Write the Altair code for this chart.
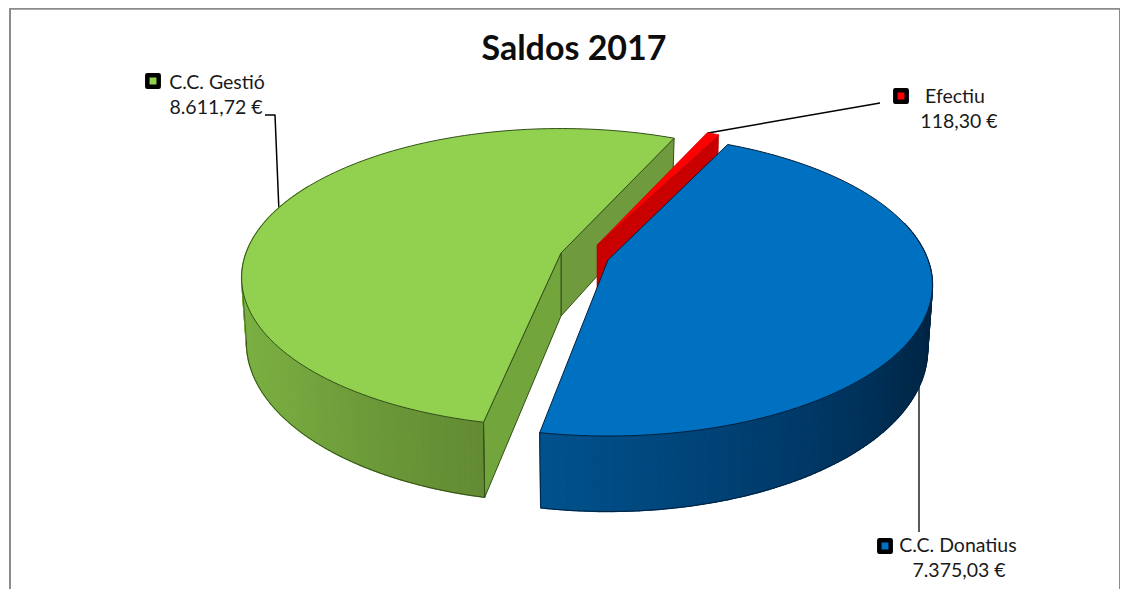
import math
import altair as alt

# ---- chart values ----
categories = ["C.C. Gestió", "C.C. Donatius", "Efectiu"]
amounts = [8611.72, 7375.03, 118.30]
amount_labels = ["8.611,72 €", "7.375,03 €", "118,30 €"]
top_colors = ["#92D050", "#0070C0", "#FF0000"]
title_text = "Saldos 2017"

W, H = 1112, 581
OX, OY = 8, 8  # page margin
TILT = 0.165
DEPTH = 63
START = 65.6  # angle where the first slice begins
BLUE_SHIFT = 1.6


def P(x, y):
    return [x - OX, y - OY]


total = sum(amounts)
sweep = [v / total * 360 for v in amounts]
green_a0, green_a1 = START, START + sweep[0]
blue_a0, blue_a1 = green_a1 + BLUE_SHIFT, green_a1 + sweep[1] + BLUE_SHIFT
red_a0, red_a1 = START - sweep[2], START


def pt(apex, a, b, t, drop=False):
    r = math.radians(t)
    X, Y = math.cos(r), math.sin(r)
    s = 1 / (1 + TILT * Y)
    k = 0.985 if drop else 1.0
    x = apex[0] + a * X * s * k
    y = apex[1] - b * Y * s + (DEPTH * s if drop else 0)
    return P(x, y)


def base(apex, drop=False):
    return P(apex[0], apex[1] + (DEPTH if drop else 0))


def arc(apex, a, b, t0, t1, drop=False, n=None):
    n = n or max(2, int(abs(t1 - t0) / 1.5))
    return [pt(apex, a, b, t0 + (t1 - t0) * i / n, drop) for i in range(n + 1)]


def feat(coords, fill="transparent", stroke="transparent", sw=1.0, line=False):
    if line:
        geom = {"type": "LineString", "coordinates": coords}
    else:
        geom = {"type": "Polygon", "coordinates": [coords + [coords[0]]]}
    return {"type": "Feature", "geometry": geom,
            "properties": {"f": fill, "s": stroke, "w": sw}}


def mix(stops, t):
    if t <= stops[0][0]:
        return stops[0][1]
    for (t0, c0), (t1, c1) in zip(stops, stops[1:]):
        if t0 <= t <= t1:
            u = (t - t0) / (t1 - t0)
            ch = [round(int(c0[i:i+2], 16) * (1 - u) + int(c1[i:i+2], 16) * u) for i in (1, 3, 5)]
            return "#%02x%02x%02x" % tuple(ch)
    return stops[-1][1]


def wall(apex, a, b, t0, t1, stops, step=1.0):
    out = []
    t = t0
    while t < t1:
        e = min(t + step, t1)
        poly = [pt(apex, a, b, t), pt(apex, a, b, e), pt(apex, a, b, e, True), pt(apex, a, b, t, True)]
        c = mix(stops, (t + e) / 2)
        out.append(feat(poly, c, c, 1.4))
        t = e
    return out


G, GA, GB = (561, 253), 315, 145
B, BA, BB = (608, 260), 320, 147
R, RA, RB = (597, 245), 307, 142

green_stops = [(170, "#82bb47"), (220, "#76a83f"), (259, "#628a33")]
blue_stops = [(258, "#00538f"), (300, "#003a69"), (330, "#00294b"), (375, "#00213d")]
GREEN_EDGE, BLUE_EDGE = "#33501a", "#00203c"

features = [feat([[0, 0], [W, 0], [W, H], [0, H]])]  # invisible box that fixes the frame

# leader lines and chart frame
features += [
    feat([[10 - OX, H], [10 - OX, 0.8], [1120 - OX, 0.8], [1120 - OX, H]], stroke="#8c8c8c", sw=2, line=True),
    feat([P(265, 115), P(275, 115), P(279, 212)], stroke="#000000", sw=1.5, line=True),
    feat([P(708, 133), P(880, 103)], stroke="#000000", sw=1.5, line=True),
    feat([P(919, 370), P(919, 532)], stroke="#000000", sw=1.3, line=True),
]

# green slice: cut faces, outer wall, top
features.append(feat([base(G), pt(G, GA, GB, green_a0), pt(G, GA, GB, green_a0, True), base(G, True)],
                     "#6f9b3e", GREEN_EDGE, 1))
features += wall(G, GA, GB, 150, green_a1, green_stops)
features.append(feat([base(G), pt(G, GA, GB, green_a1), pt(G, GA, GB, green_a1, True), base(G, True)],
                     "#73a53d", GREEN_EDGE, 1))
features.append(feat(arc(G, GA, GB, 189, green_a1, True), stroke=GREEN_EDGE, sw=1, line=True))
features.append(feat([pt(G, GA, GB, 189), pt(G, GA, GB, 189, True)], stroke=GREEN_EDGE, sw=0.7, line=True))
features.append(feat([pt(G, GA, GB, green_a1), pt(G, GA, GB, green_a1, True)], stroke=GREEN_EDGE, sw=1, line=True))
features.append(feat([base(G)] + arc(G, GA, GB, green_a0, green_a1), top_colors[0], GREEN_EDGE, 1))

# red slice: cut face and top
features.append(feat([base(R), pt(R, RA, RB, red_a0), pt(R, RA, RB, red_a0, True), base(R, True)],
                     "#c80000", "#b00000", 0.6))
features.append(feat([base(R)] + arc(R, RA, RB, red_a0, red_a1, n=3), top_colors[2], "#d00000", 0.6))

# blue slice: outer wall and top
features += wall(B, BA, BB, blue_a0, 375, blue_stops)
features.append(feat(arc(B, BA, BB, blue_a0, 351, True), stroke=BLUE_EDGE, sw=1, line=True))
features.append(feat([pt(B, BA, BB, blue_a0), pt(B, BA, BB, blue_a0, True)], stroke=BLUE_EDGE, sw=0.8, line=True))
features.append(feat([base(B)] + arc(B, BA, BB, blue_a0, blue_a1), top_colors[1], BLUE_EDGE, 1))

# text and key positions
label_x = [216, 959, 959]
name_y = [83, 97, 546]
name_x = [217, 955, 958]
value_y = [108, 122, 571]
key_x = [153, 901, 885]
key_y = [81, 96, 546]
order = [0, 2, 1]  # label rows: Gestió, Efectiu, Donatius

text_rows = [{"t": title_text, "x": 574 - OX, "y": 50 - OY}]
label_rows = []
for row, idx in enumerate(order):
    label_rows.append({"t": categories[idx], "x": name_x[row] - OX, "y": name_y[row] - OY})
    label_rows.append({"t": amount_labels[idx], "x": label_x[row] - OX, "y": value_y[row] - OY})
key_rows = [{"x": key_x[r] - OX, "y": key_y[r] - OY, "c": top_colors[i]} for r, i in enumerate(order)]

proj = dict(type="identity")

shapes = alt.Chart(alt.Data(values=features)).mark_geoshape(strokeJoin="round").encode(
    fill=alt.Fill("properties.f:N", scale=None),
    stroke=alt.Stroke("properties.s:N", scale=None),
    strokeWidth=alt.StrokeWidth("properties.w:Q", scale=None),
).project(**proj)

title = alt.Chart(alt.Data(values=text_rows)).mark_text(
    font="Lato", fontSize=34, fontWeight="bold", color="#0d0d0d", align="center", baseline="middle"
).encode(longitude="x:Q", latitude="y:Q", text="t:N").project(**proj)

labels = alt.Chart(alt.Data(values=label_rows)).mark_text(
    font="Lato", fontSize=19.5, color="#1a1a1a", align="center", baseline="middle"
).encode(longitude="x:Q", latitude="y:Q", text="t:N").project(**proj)

keys = alt.Chart(alt.Data(values=key_rows)).mark_square(
    size=130, stroke="#000000", strokeWidth=4.5, strokeJoin="round", opacity=1
).encode(longitude="x:Q", latitude="y:Q", fill=alt.Fill("c:N", scale=None)).project(**proj)

chart = alt.layer(shapes, title, labels, keys).properties(
    width=W, height=H, padding=0, autosize=alt.AutoSizeParams(type="none"), background="white"
).configure_view(stroke=None)

chart.save("out.html", embed_options={"renderer": "svg", "actions": False})
